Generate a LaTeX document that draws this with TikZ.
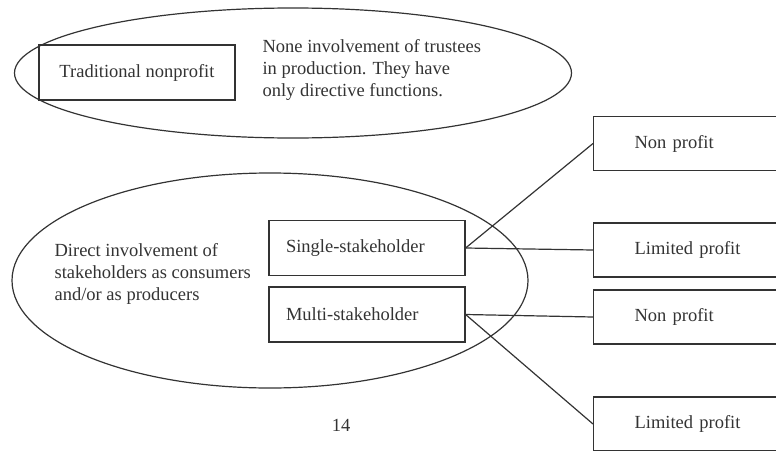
\documentclass[tikz,border=0pt]{standalone}
\usepackage{fontspec}
\setmainfont{Liberation Serif}
\usetikzlibrary{shapes.geometric}
\definecolor{ink}{HTML}{333333}
\tikzset{
  every node/.style={font=\fontsize{18.5}{22}\selectfont, text=ink},
  group/.style={draw=ink, ellipse, inner sep=0pt},
  box/.style={draw=ink, minimum width=196pt, minimum height=55pt, inner sep=0pt},
  kindbox/.style={box, inner xsep=17pt, text width=162pt, align=left},
  outbox/.style={draw=ink, anchor=west, minimum height=54pt, inner ysep=0pt, inner xsep=41pt, text width=180pt, align=left},
  link/.style={draw=ink}
}
\begin{document}
\begin{tikzpicture}[x=1pt, y=-1pt, line width=1.2pt]
    \useasboundingbox (0,0) rectangle (776,450);
    \clip (0,0) rectangle (776,450);

    % Draw the upper ellipse with its box and text
    \node[group, minimum width=557pt, minimum height=130pt] (trad) at (293,73) {};
    \node[box] (tradbox) at (137,72.5) {Traditional nonprofit};
    \node[anchor=west, align=left, inner sep=0pt] (tradtext) at (262,70) {None involvement of trustees\\in production. They have\\only directive functions.};

    % Draw the lower ellipse with its text and boxes
    \node[group, minimum width=516pt, minimum height=215pt] (direct) at (270,280.5) {};
    \node[anchor=west, align=left, inner sep=0pt] (directtext) at (54,274) {Direct involvement of\\stakeholders as consumers\\and/or as producers};
    \node[kindbox] (single) at (367,248) {Single-stakeholder};
    \node[kindbox] (multi) at (367,314.5) {Multi-stakeholder};

    % Draw the boxes on the right
    \node[outbox] (nonA) at (593,143.5) {Non profit};
    \node[outbox] (limA) at (593,250) {Limited profit};
    \node[outbox] (nonB) at (593,317) {Non profit};
    \node[outbox] (limB) at (593,424) {Limited profit};

    % Draw the connectors
    \draw[link] (single.east) -- (nonA.west);
    \draw[link] (single.east) -- (limA.west);
    \draw[link] (multi.east) -- (nonB.west);
    \draw[link] (multi.east) -- (limB.west);

    % Page number
    \node (page) at (341,425) {14};
\end{tikzpicture}
\end{document}
